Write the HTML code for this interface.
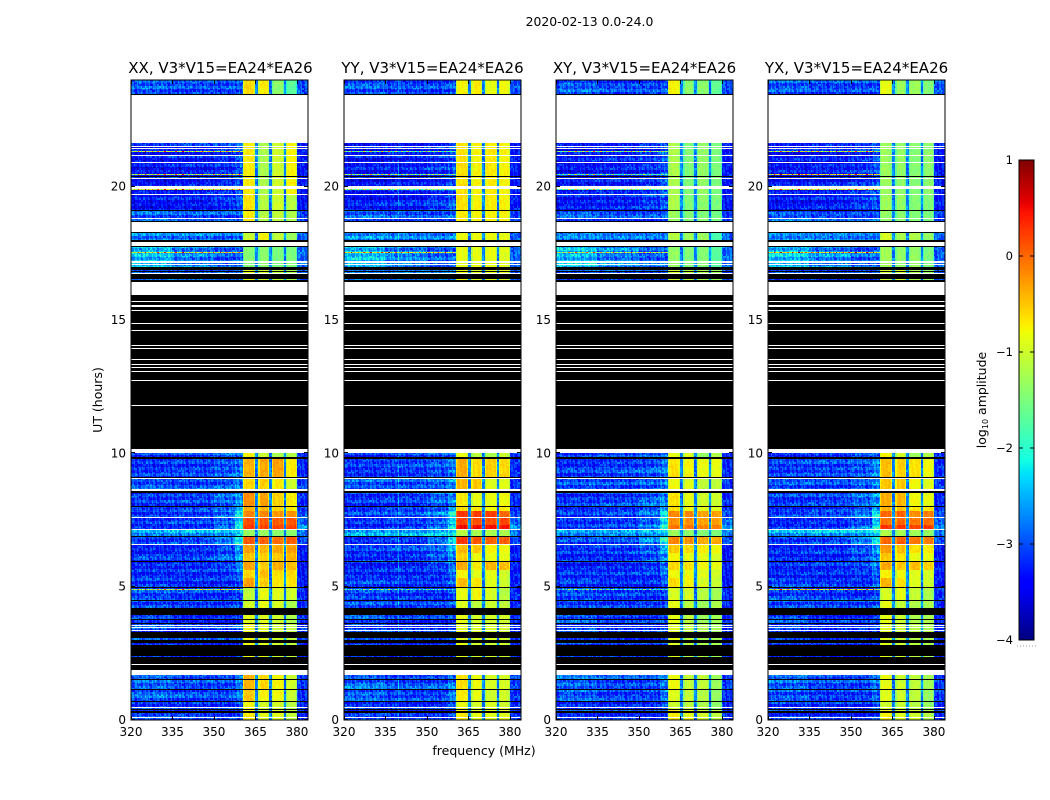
<!DOCTYPE html>
<html>
<head>
<meta charset="utf-8">
<title>2020-02-13 dynamic spectra</title>
<style>
html,body{margin:0;padding:0;background:#fff;width:1050px;height:800px;overflow:hidden}
#fig{position:absolute;left:0;top:0;width:1050px;height:800px}
canvas{position:absolute;image-rendering:pixelated}
svg{position:absolute;left:0;top:0}
text{font-family:"DejaVu Sans","Liberation Sans",sans-serif;fill:#000}
</style>
</head>
<body>
<div id="fig"></div>
<script>
// ---- axis labels and ticks ----
const polarisations = ["XX", "YY", "XY", "YX"];
const freqTicks = [320, 335, 350, 365, 380];
const hourTicks = [0, 5, 10, 15, 20];
const colorTicks = [1, 0, -1, -2, -3, -4];

// ---- frequency structure (MHz) ----
const blockEdges = [[360.4, 365.2], [365.9, 370.2], [370.9, 375.4], [376, 380]];
const lowEdges = [320, 335, 350, 357.5, 360.4];

// ---- observed bands: [start hour, end hour] ----
const bandHours = [
[23.43,24],[19.72,21.63],[19.11,19.72],[18.64,19.11],[17.99,18.27],[16.87,17.74],[16.39,16.87],
[9.84,10],[9.1,9.78],[8.64,9.06],[7.98,8.54],[7.82,7.98],[7.62,7.82],[7.33,7.6],[7.15,7.33],
[6.9,7.15],[6.6,6.9],[6.28,6.58],[5.95,6.28],[5.61,5.94],[5.31,5.61],[4.98,5.31],[4.48,4.98],
[4.17,4.48],[3.62,3.92],[1.86,3.62],[1.13,1.67],[0.71,1.13],[0.36,0.71],[0,0.36]];

// low-band log amplitude per band: 320-335, 335-350, 350-357.5, 357.5-360.4, above 380
const bandLow = [
[-2.95,-3.05,-3.05,-3.0,-3.0],[-3.35,-3.3,-3.2,-3.0,-3.3],[-3.35,-3.3,-3.15,-3.0,-3.3],[-2.95,-3.05,-3.05,-3.0,-3.1],
[-2.75,-2.8,-2.85,-2.8,-2.9],[-2.45,-2.75,-2.95,-2.9,-2.9],[-2.95,-2.95,-2.95,-2.95,-3.0],
[-3.2,-3.1,-2.95,-2.9,-3.2],[-3.15,-3.1,-3.0,-2.8,-3.2],[-3.0,-3.05,-2.95,-2.75,-3.1],[-3.15,-3.1,-2.9,-2.7,-3.2],
[-3.2,-3.1,-3.0,-2.6,-3.2],[-3.1,-3.05,-2.8,-2.2,-3.0],[-3.2,-3.15,-3.0,-2.4,-2.9],[-3.15,-3.1,-2.75,-2.1,-2.6],
[-2.6,-2.55,-2.5,-2.3,-2.8],[-3.15,-3.1,-2.8,-2.2,-3.0],[-3.2,-3.15,-3.0,-2.6,-3.3],[-3.2,-3.2,-3.0,-2.7,-3.3],
[-3.25,-3.2,-3.1,-2.8,-3.3],[-3.2,-3.2,-3.15,-2.9,-3.3],[-3.1,-3.2,-3.2,-3.0,-3.3],[-3.05,-3.15,-3.2,-3.05,-3.2],
[-3.05,-3.1,-3.1,-3.0,-3.2],[-3.0,-3.2,-3.2,-3.1,-3.2],[-3.1,-3.2,-3.2,-3.1,-3.2],
[-2.9,-3.05,-3.05,-2.8,-3.1],[-2.95,-3.1,-3.1,-2.85,-3.15],[-3.15,-3.2,-3.2,-3.0,-3.2],[-3.1,-3.15,-3.2,-3.1,-3.2]];

// four correlator block amplitudes per band, one array per polarisation
const blocksXX = [
[-0.6,-0.7,-1.4,-1.7],[-0.7,-1.2,-1.0,-0.75],[-0.65,-1.15,-1.0,-1.15],[-0.7,-1.15,-1.1,-1.2],[-1.05,-0.75,-1.1,-1.3],[-1.45,-1.4,-1.5,-1.5],[-0.9,-1.0,-1.1,-1.2],
[-0.75,-1.0,-1.2,-1.15],[-0.4,-0.35,-0.3,-0.7],[-0.6,-0.55,-0.7,-1.0],[-0.2,-0.3,-0.55,-0.7],[-0.35,-0.4,-0.55,-0.7],[-0.15,-0.15,-0.25,-0.2],[0.15,0.1,0.05,0.1],[0.25,0.2,0.2,0.2],
[-1.3,-1.3,-1.4,-1.4],[0.1,0.05,-0.05,0.05],[-0.3,-0.4,-0.35,-0.3],[-0.5,-0.55,-0.5,-0.4],[-0.3,-0.55,-0.35,-0.45],[-0.6,-0.45,-0.65,-0.6],[-0.3,-0.55,-0.7,-0.65],[-1.1,-0.85,-0.9,-1.0],
[-1.0,-0.85,-0.95,-1.2],[-0.9,-0.9,-1.0,-1.2],[-0.8,-0.9,-1.0,-1.1],
[-0.4,-0.6,-0.75,-1.0],[-0.5,-0.75,-0.8,-1.05],[-0.8,-1.0,-1.0,-1.15],[-0.7,-0.9,-0.9,-1.1]];
const blocksYY = [
[-0.75,-0.7,-0.85,-0.8],[-0.65,-0.75,-0.7,-0.75],[-0.65,-0.75,-0.7,-0.75],[-0.7,-0.75,-0.75,-0.75],[-0.8,-0.8,-0.8,-0.85],[-0.85,-0.85,-0.85,-0.9],[-0.8,-0.9,-0.9,-0.9],
[-0.8,-1.1,-1.2,-1.05],[-0.35,-0.6,-0.55,-0.6],[-0.4,-0.5,-0.9,-0.9],[-0.7,-0.85,-0.85,-0.8],[-0.6,-0.7,-0.8,-0.7],[0.3,0.25,0.25,0.0],[0.2,0.15,0.15,0.2],[0.5,0.5,0.45,0.45],
[-1.15,-1.2,-1.2,-1.2],[0.25,0.1,0.05,0.05],[-0.45,-0.5,-0.75,-0.8],[-0.55,-0.8,-0.85,-0.85],[-0.35,-0.7,-0.4,-0.45],[-0.75,-0.9,-0.85,-1.0],[-0.45,-0.65,-0.9,-1.0],[-0.85,-0.75,-0.95,-1.15],
[-0.9,-1.1,-1.0,-1.1],[-0.85,-0.95,-1.0,-1.0],[-0.85,-0.95,-1.0,-1.0],
[-0.65,-0.8,-0.95,-0.95],[-0.7,-0.85,-1.0,-1.0],[-0.85,-0.95,-0.95,-1.0],[-0.7,-0.85,-0.9,-0.9]];
const blocksXY = [
[-0.75,-1.4,-1.4,-1.65],[-1.2,-1.45,-1.35,-1.5],[-1.2,-1.45,-1.4,-1.5],[-1.3,-1.45,-1.45,-1.55],[-1.15,-1.25,-1.3,-1.8],[-1.35,-1.45,-1.45,-1.7],[-1.0,-1.1,-1.2,-1.3],
[-0.85,-0.95,-1.35,-1.2],[-0.65,-0.75,-0.85,-0.85],[-0.8,-0.9,-1.1,-1.1],[-0.65,-0.85,-1.0,-1.0],[-0.65,-0.8,-0.9,-0.9],[-0.15,-0.15,-0.3,-0.3],[-0.2,-0.2,-0.3,-0.3],[-0.05,-0.05,-0.15,-0.1],
[-1.3,-1.35,-1.45,-1.5],[-0.15,-0.2,-0.35,-0.35],[-0.5,-0.6,-0.7,-0.8],[-0.75,-0.85,-0.9,-0.95],[-0.6,-0.65,-0.8,-0.85],[-0.8,-0.8,-0.9,-1.0],[-0.6,-0.75,-0.95,-1.05],[-0.95,-0.95,-1.15,-1.25],
[-0.85,-1.1,-1.3,-1.2],[-0.85,-1.1,-1.3,-1.25],[-0.9,-1.1,-1.2,-1.25],
[-0.8,-1.05,-1.1,-1.3],[-0.9,-1.05,-1.15,-1.35],[-1.0,-1.1,-1.2,-1.4],[-0.7,-0.85,-1.0,-1.1]];
const blocksYX = [
[-0.85,-1.3,-1.3,-1.45],[-1.3,-1.35,-1.45,-1.4],[-1.3,-1.35,-1.45,-1.45],[-1.35,-1.4,-1.45,-1.5],[-0.95,-1.2,-1.2,-1.35],[-1.25,-1.35,-1.35,-1.5],[-1.0,-1.0,-1.2,-1.3],
[-0.75,-0.95,-1.3,-1.15],[-0.45,-0.55,-0.65,-0.8],[-0.5,-0.5,-0.8,-0.9],[-0.35,-0.4,-0.8,-0.85],[-0.4,-0.45,-0.7,-0.7],[0.0,0.05,-0.2,-0.1],[-0.05,0.0,-0.1,-0.05],[0.3,0.3,0.2,0.25],
[-1.2,-1.25,-1.3,-1.35],[0.0,0.05,-0.1,-0.1],[-0.25,-0.45,-0.65,-0.7],[-0.5,-0.65,-0.85,-0.85],[-0.35,-0.5,-0.45,-0.55],[-0.75,-0.8,-0.9,-0.95],[-0.4,-0.65,-0.9,-1.0],[-0.95,-0.85,-1.05,-1.2],
[-0.85,-1.05,-1.2,-1.2],[-0.85,-1.0,-1.2,-1.2],[-0.9,-1.0,-1.15,-1.2],
[-0.85,-1.0,-1.1,-1.25],[-0.9,-1.0,-1.1,-1.3],[-1.0,-1.05,-1.15,-1.35],[-0.75,-0.9,-1.0,-1.15]];

// ---- flagged (black) and missing (white) time ranges in hours ----
const flaggedRanges = [[23.43,23.47],[17.89,17.99],[16.87,16.97],[16.77,16.81],[16.53,16.72],[16.39,16.5],[10.15,15.95],[9.78,9.84],[8.5,8.55],[3.92,4.17],[3.05,3.3],[2.86,2.98],[2.39,2.8],[2.08,2.36],[1.86,2.05],[0.36,0.4],[0.23,0.32]];
const flaggedLines = [20.38,19.11,18.68,7.99,6.9,5.94,4.98,4.48,3.77,3.61,1.53,1.13,0.71];
const missingRanges = [[21.63,23.43],[19.9,20.02],[18.27,18.64],[17.74,17.89],[15.95,16.39],[10,10.15],[8.57,8.64],[1.67,1.86]];
const missingLines = [21.49,21.42,21.17,20.92,20.31,19.72,18.81,17.2,17.14,17.08,16.74,15.94,15.69,15.56,15.52,15.35,14.87,14.6,14.04,13.93,13.52,13.33,13.22,13.08,12.74,11.79,9.06,7.61,7.15,6.59,3.55,3.46,3.35,2.07,0.46,0.1];

// ---- interference: hot lines (hour + peak level per polarisation) ----
const rfiHours = [21.33,20.46,19.88,17.54,4.9,0.38];
const rfiXX = [-1.0,-1.1,-0.9,-0.9,-1.2,-0.3];
const rfiYY = [-1.7,-1.5,-1.6,-0.8,-2.2,-1.2];
const rfiXY = [-1.5,-1.9,-1.7,-1.2,-2.2,-1.9];
const rfiYX = [-1.1,-0.7,-1.0,-0.6,-0.9,-1.0];
const rfiSpikes = [0.1,-0.4,0.6,-0.2,-0.5,1.3,0.2,-0.6,0.3,-0.1,1.6,-0.3,0.5,-0.5,0.0,0.9,-0.4,0.2,-0.6,1.1,0.3,-0.2,-0.5,0.4,1.4,-0.3,0.1];

// vertical interference lines (MHz), one array per polarisation
const chanXX = [351.5,352.5,353.5,355.5];
const chanYY = [339.9,351];
const chanXY = [351.5,353];
const chanYX = [351,353.5];

// estimated fine speckle in log amplitude, looked up per cell
const speckle = [0.21,-0.14,0.05,-0.27,0.33,-0.06,0.12,-0.31,0.02,0.26,-0.19,0.08,-0.03,0.29,-0.23,0.15,-0.11,0.37,-0.29,0.04,-0.08,0.18,-0.35,0.24,0.01,-0.17,0.31,-0.05,0.11,-0.25,0.19,-0.13,0.07,0.34,-0.21,-0.02,0.16,-0.33,0.27,-0.09,0.03,-0.15,0.22,0.09,-0.28,0.13,-0.07,0.39,-0.2,0.06,-0.12,0.25,-0.3,0.14,-0.04,0.17,-0.24,0.3,-0.1,0.0,-0.16];
// estimated horizontal streaks across the low band, looked up per 3-row group
const rowStreaks = [0.12,-0.08,0.2,-0.15,0.02,0.16,-0.2,0.07,-0.04,0.22,-0.12,0.0,0.14,-0.18,0.09,-0.06,0.18,-0.1,0.04,-0.16,0.11,0.24,-0.13];
// how far block edges sit below the block level (log amplitude)
const blockEdgeDrop = 0.3;

// ---- layout ----
const axesLeft = [131, 344, 556, 768];
const axesWidth = 177;
const axesTop = 80, axesBottom = 720;
const freqMin = 320, freqMax = 384, hourMax = 24;
const chanCount = 128, rowCount = 640;

const fig = document.getElementById('fig');
const NS = 'http://www.w3.org/2000/svg';

function xScale(f, left) { return left + (f - freqMin) / (freqMax - freqMin) * axesWidth; }
function yScale(h) { return axesBottom - h / hourMax * (axesBottom - axesTop); }
function rowOf(h) { return Math.min(rowCount - 1, Math.max(0, Math.floor((hourMax - h) / hourMax * rowCount))); }

function jet(v) {
  const t = Math.max(0, Math.min(1, (v + 4) / 5));
  const ramp = (pts) => {
    for (let i = 1; i < pts.length; i++) {
      if (t <= pts[i][0]) {
        const a = pts[i - 1], b = pts[i];
        return a[1] + (b[1] - a[1]) * (t - a[0]) / (b[0] - a[0]);
      }
    }
    return pts[pts.length - 1][1];
  };
  const r = ramp([[0,0],[0.35,0],[0.66,1],[0.89,1],[1,0.5]]);
  const g = ramp([[0,0],[0.125,0],[0.375,1],[0.64,1],[0.91,0],[1,0]]);
  const b = ramp([[0,0.5],[0.11,1],[0.34,1],[0.65,0],[1,0]]);
  return 'rgb(' + Math.round(r * 255) + ',' + Math.round(g * 255) + ',' + Math.round(b * 255) + ')';
}

// row mask: 0 = data, 1 = flagged, 2 = missing
const rowMask = new Array(rowCount).fill(0);
flaggedRanges.forEach(function (rg) { for (let r = rowOf(rg[1]); r < rowOf(rg[0]); r++) rowMask[r] = 1; });
flaggedLines.forEach(function (h) { rowMask[rowOf(h)] = 1; });
missingRanges.forEach(function (rg) { for (let r = rowOf(rg[1]); r < rowOf(rg[0]); r++) rowMask[r] = 2; });
missingLines.forEach(function (h) { rowMask[rowOf(h)] = 2; });

function bandAt(h) {
  for (let i = 0; i < bandHours.length; i++) {
    if (h >= bandHours[i][0] && h < bandHours[i][1]) return i;
  }
  return -1;
}

function cellValue(f, r, c, band, blocks, chans, rfi, pIdx) {
  const n = speckle[(c * 7 + (r >> 1) * 23 + pIdx * 11) % speckle.length];
  const streak = rowStreaks[(Math.floor(r / 3) + pIdx * 3) % rowStreaks.length];
  const low = bandLow[band];
  for (let b = 0; b < blockEdges.length; b++) {
    if (f >= blockEdges[b][0] && f < blockEdges[b][1]) {
      const nearEdge = (f - blockEdges[b][0] < 0.5 || blockEdges[b][1] - f < 0.5);
      return blocks[band][b] - (nearEdge ? blockEdgeDrop : 0) + n * 0.28;
    }
  }
  if (f >= blockEdges[0][1] && f < blockEdges[3][1]) {
    return -2.75 + n * 0.8;
  }
  if (f >= blockEdges[3][1]) return low[4] + n;
  if (rfi !== null) return rfi + rfiSpikes[(c + pIdx * 5) % rfiSpikes.length];
  let level = low[3];
  for (let s = 0; s < 3; s++) {
    if (f >= lowEdges[s] && f < lowEdges[s + 1]) level = low[s];
  }
  for (let k = 0; k < chans.length; k++) {
    if (Math.abs(f - chans[k]) < 0.25) level += 0.45;
  }
  return level + n + streak;
}

const blockSets = [blocksXX, blocksYY, blocksXY, blocksYX];
const chanSets = [chanXX, chanYY, chanXY, chanYX];
const rfiSets = [rfiXX, rfiYY, rfiXY, rfiYX];

polarisations.forEach(function (pol, p) {
  const cv = document.createElement('canvas');
  
  
  cv.width = axesWidth;
  cv.height = axesBottom - axesTop;
  cv.style.left = axesLeft[p] + 'px';
  cv.style.top = axesTop + 'px';
  fig.appendChild(cv);
  const ctx = cv.getContext('2d');
  const chanW = (freqMax - freqMin) / chanCount;
  for (let r = 0; r < rowCount; r++) {
    const h = hourMax - (r + 0.5) / rowCount * hourMax;
    const y = r;
    if (rowMask[r] === 2) continue;
    if (rowMask[r] === 1) { ctx.fillStyle = '#000'; ctx.fillRect(0, y, axesWidth, 1); continue; }
    const band = bandAt(h);
    if (band < 0) { ctx.fillStyle = '#000'; ctx.fillRect(0, y, axesWidth, 1); continue; }
    let rfi = null;
    rfiHours.forEach(function (rh, i) { if (rowOf(rh) === r) rfi = rfiSets[p][i]; });
    for (let c = 0; c < chanCount; c++) {
      const f = freqMin + (c + 0.5) * chanW;
      const x0 = Math.round(xScale(f - chanW / 2, 0));
      const x1 = Math.round(xScale(f + chanW / 2, 0));
      ctx.fillStyle = jet(cellValue(f, r, c, band, blockSets[p], chanSets[p], rfi, p));
      ctx.fillRect(x0, y, x1 - x0, 1);
    }
  }
});

// ---- colour bar ----
const cbLeft = 1019, cbTop = 160, cbWidth = 15, cbHeight = 480;
function cbY(v) { return cbTop + (1 - v) / 5 * cbHeight; }
const cb = document.createElement('canvas');


cb.width = cbWidth;
cb.height = cbHeight;
cb.style.left = cbLeft + 'px';
cb.style.top = cbTop + 'px';
fig.appendChild(cb);
const cbCtx = cb.getContext('2d');
for (let i = 0; i < cbHeight; i++) {
  cbCtx.fillStyle = jet(1 - (i + 0.5) / cbHeight * 5);
  cbCtx.fillRect(0, i, cbWidth, 1);
}

// ---- svg overlay ----
const svg = document.createElementNS(NS, 'svg');
svg.setAttribute('width', '1050');
svg.setAttribute('height', '800');


fig.appendChild(svg);

function addLine(x1, y1, x2, y2, name, color) {
  const l = document.createElementNS(NS, 'line');
  l.setAttribute('x1', x1); l.setAttribute('y1', y1);
  l.setAttribute('x2', x2); l.setAttribute('y2', y2);
  l.setAttribute('stroke', color || '#000');
  l.setAttribute('stroke-width', '1');
  
  
  svg.appendChild(l);
  return l;
}
function addText(x, y, str, size, anchor, name) {
  const t = document.createElementNS(NS, 'text');
  t.setAttribute('x', x); t.setAttribute('y', y);
  t.setAttribute('font-size', size);
  t.setAttribute('text-anchor', anchor);
  
  
  t.textContent = str;
  svg.appendChild(t);
  return t;
}
function addFrame(x, y, w, h, name) {
  const f = document.createElementNS(NS, 'rect');
  f.setAttribute('x', x); f.setAttribute('y', y);
  f.setAttribute('width', w); f.setAttribute('height', h);
  f.setAttribute('fill', 'none');
  f.setAttribute('stroke', '#000');
  f.setAttribute('stroke-width', '1');
  
  
  svg.appendChild(f);
}

polarisations.forEach(function (pol, p) {
  const left = axesLeft[p];
  const key = pol.toLowerCase();
  addFrame(left, axesTop, axesWidth, axesBottom - axesTop, 'axes-frame-' + key);
  addText(left + axesWidth / 2 + (p === 0 ? 1 : 0), 73, pol + ', V3*V15=EA24*EA26', 15, 'middle', 'panel-title-' + key);
  freqTicks.forEach(function (f) {
    const x = Math.round(xScale(f, left)) + 0.5;
    addLine(x, axesBottom, x, axesBottom - 4, 'x-tick-' + key + '-' + f);
    addLine(x, axesTop, x, axesTop + 4, 'x-tick-top-' + key + '-' + f);
    addText(xScale(f, left), 736, String(f), 12, 'middle', 'x-tick-label-' + key + '-' + f);
  });
  hourTicks.forEach(function (h) {
    const y = Math.round(yScale(h)) - 0.5;
    addLine(left, y, left + 4, y, 'y-tick-' + key + '-' + h);
    addLine(left + axesWidth, y, left + axesWidth - 4, y, 'y-tick-right-' + key + '-' + h);
    addText(left - 5, yScale(h) + 4, String(h), 12, 'end', 'y-tick-label-' + key + '-' + h);
  });
});

addFrame(cbLeft, cbTop, cbWidth, cbHeight, 'colorbar-frame');
colorTicks.forEach(function (v) {
  const y = cbY(v);
  addLine(cbLeft, y, cbLeft + 4, y, 'colorbar-tick-' + v);
  addLine(cbLeft + cbWidth, y, cbLeft + cbWidth - 4, y, 'colorbar-tick-right-' + v);
  addText(1013, y + 4, String(v).replace('-', '\u2212'), 11.5, 'end', 'colorbar-tick-label-' + v);
});
const dots = addLine(1017, 646, 1036, 646, 'colorbar-dotted-mark', '#999');
dots.setAttribute('stroke-dasharray', '1 2');

addText(589.5, 26, '2020-02-13 0.0-24.0', 12.4, 'middle', 'figure-title');
addText(484, 755, 'frequency (MHz)', 12.5, 'middle', 'x-axis-title');
const yTitle = addText(0, 0, 'UT (hours)', 12.5, 'middle', 'y-axis-title');
yTitle.setAttribute('transform', 'translate(102,400) rotate(-90)');
const cTitle = addText(0, 0, 'log', 12.5, 'middle', 'colorbar-title');
cTitle.setAttribute('transform', 'translate(986,400) rotate(-90)');
const sub = document.createElementNS(NS, 'tspan');
sub.setAttribute('font-size', '8');
sub.setAttribute('dy', '2');
sub.textContent = '10';
cTitle.appendChild(sub);
const rest = document.createElementNS(NS, 'tspan');
rest.setAttribute('dy', '-2');
rest.textContent = ' amplitude';
cTitle.appendChild(rest);
</script>
</body>
</html>
